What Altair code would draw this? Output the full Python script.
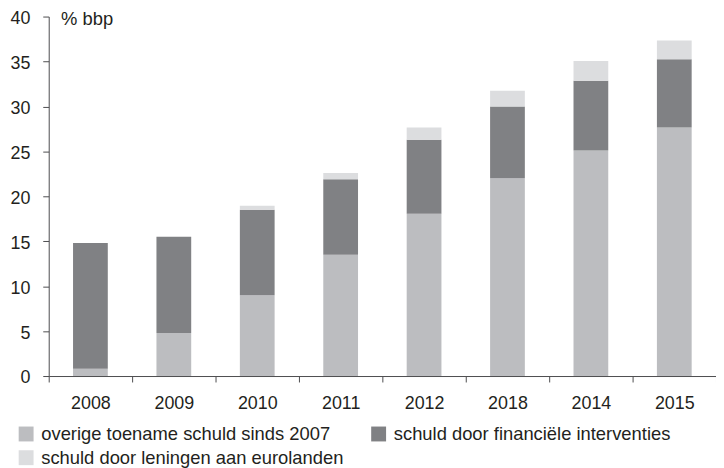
import altair as alt
import pandas as pd

years = ["2008", "2009", "2010", "2011", "2012", "2018", "2014", "2015"]
overige = [0.8, 4.8, 9.0, 13.5, 18.05, 22.0, 25.1, 27.65]
financiele = [14.0, 10.7, 9.5, 8.4, 8.25, 8.0, 7.75, 7.6]
leningen = [0.0, 0.0, 0.45, 0.7, 1.35, 1.75, 2.2, 2.1]

names = {
    "overige": "overige toename schuld sinds 2007",
    "financiele": "schuld door financiële interventies",
    "leningen": "schuld door leningen aan eurolanden",
}
colors = {"overige": "#bcbdc0", "financiele": "#808184", "leningen": "#dcdddf"}
stack_order = ["overige", "financiele", "leningen"]
legend_order = ["overige", "leningen", "financiele"]  # legend fills column-wise

series_values = {"overige": overige, "financiele": financiele, "leningen": leningen}

rows = []
for key in stack_order:
    for y, v in zip(years, series_values[key]):
        rows.append({"jaar": y, "reeks": names[key], "waarde": v,
                     "volgorde": stack_order.index(key)})
df = pd.DataFrame(rows)

FONT = "Liberation Sans"
TXT = "#231f20"
AX = "#4d4d4f"

chart = alt.Chart(df).mark_bar(size=35).encode(
    x=alt.X("jaar:N", sort=years,
            scale=alt.Scale(paddingInner=0, paddingOuter=0),
            axis=alt.Axis(title=None, labelAngle=0, tickBand="extent",
                          tickSize=6, labelPadding=13, labelFontSize=18,
                          labelColor=TXT, domainColor=AX, tickColor=AX,
                          labelFont=FONT)),
    y=alt.Y("waarde:Q", stack="zero",
            scale=alt.Scale(domain=[0, 40], nice=False),
            axis=alt.Axis(values=list(range(0, 41, 5)), grid=False,
                          tickSize=6, labelPadding=13, labelFontSize=18,
                          labelOffset=2,
                          labelColor=TXT, domainColor=AX, tickColor=AX,
                          labelFont=FONT,
                          title="% bbp", titleAngle=0, titleAlign="left",
                          titleBaseline="alphabetic", titleX=12, titleY=8,
                          titleFontSize=18.5, titleFontWeight="normal",
                          titleColor=TXT, titleFont=FONT)),
    color=alt.Color("reeks:N",
                    scale=alt.Scale(domain=[names[k] for k in legend_order],
                                    range=[colors[k] for k in legend_order]),
                    legend=alt.Legend(title=None, orient="none",
                                      legendX=-32, legendY=411, columns=2,
                                      symbolType="square", symbolSize=225,
                                      symbolStrokeWidth=0, symbolOpacity=1,
                                      labelFontSize=18.5, labelFont=FONT,
                                      labelColor=TXT, labelLimit=400,
                                      labelOffset=6, rowPadding=5,
                                      columnPadding=26)),
    order=alt.Order("volgorde:Q", sort="ascending"),
).properties(
    width=672, height=362,
    autosize=alt.AutoSizeParams(type="none"),
    padding={"left": 41, "top": 7, "right": 0, "bottom": 91},
).configure_view(stroke=None)

chart.save("out.html", embed_options={"renderer": "svg", "actions": False})
